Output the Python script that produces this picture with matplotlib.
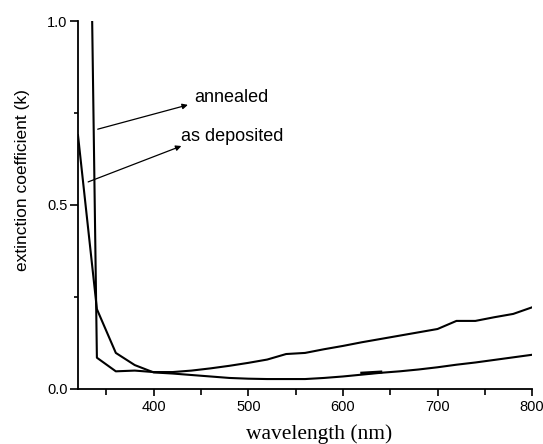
import matplotlib
matplotlib.use("Agg")
import matplotlib.pyplot as plt
from matplotlib.ticker import MultipleLocator

# annealed film
wl_annealed = [335, 340, 360, 380, 400, 420, 440, 460, 480, 500, 520, 540, 560,
               580, 600, 620, 640, 660, 680, 700, 720, 740, 760, 780, 800]
k_annealed = [1.0, 0.085, 0.048, 0.050, 0.046, 0.046, 0.050, 0.056, 0.063, 0.071,
              0.080, 0.095, 0.098, 0.108, 0.117, 0.127, 0.136, 0.145, 0.154, 0.163,
              0.185, 0.185, 0.195, 0.204, 0.222]

# as deposited film
wl_dep = [320, 340, 360, 380, 400, 420, 440, 460, 480, 500, 520, 540, 560,
          580, 600, 620, 640, 660, 680, 700, 720, 740, 760, 780, 800]
k_dep = [0.69, 0.217, 0.098, 0.065, 0.045, 0.042, 0.038, 0.034, 0.030, 0.028,
         0.027, 0.027, 0.027, 0.030, 0.034, 0.039, 0.044, 0.048, 0.053, 0.059,
         0.066, 0.072, 0.079, 0.086, 0.093]

# short overlapping segment near 620-640 nm
wl_extra = [620, 640]
k_extra = [0.043, 0.046]

fig = plt.figure(figsize=(5.43, 4.44), dpi=100)
ax = fig.add_axes([0.1436, 0.1239, 0.8364, 0.8288])

ax.plot(wl_annealed, k_annealed, color="black", lw=1.5)
ax.plot(wl_dep, k_dep, color="black", lw=1.5)
ax.plot(wl_extra, k_extra, color="black", lw=2.2)

ax.set_xlim(320, 800)
ax.set_ylim(0, 1.0)

ax.spines["top"].set_visible(False)
ax.spines["right"].set_visible(False)
ax.spines["left"].set_linewidth(1.3)
ax.spines["bottom"].set_linewidth(1.3)

ax.xaxis.set_major_locator(MultipleLocator(100))
ax.xaxis.set_minor_locator(MultipleLocator(50))
ax.yaxis.set_major_locator(MultipleLocator(0.5))
ax.yaxis.set_minor_locator(MultipleLocator(0.25))
ax.set_yticks([0.0, 0.5, 1.0])
ax.set_yticklabels(["0.0", "0.5", "1.0"])

ax.tick_params(axis="y", which="major", length=5.5, width=1.2, direction="out", pad=2)
ax.tick_params(axis="y", which="minor", length=3, width=1.2, direction="out")
ax.tick_params(axis="x", which="major", length=5, width=1.2, direction="out", pad=3)
ax.tick_params(axis="x", which="minor", length=4, width=1.2, direction="out")
for lab in ax.get_xticklabels() + ax.get_yticklabels():
    lab.set_family("Liberation Sans")
    lab.set_fontsize(10.5)

ax.set_xlabel("wavelength (nm)", family="Liberation Serif", fontsize=15.5, va="center")
ax.xaxis.set_label_coords(0.53, -0.122)
ax.set_ylabel("extinction coefficient (k)", family="Liberation Sans", fontsize=12.5)
ax.yaxis.set_label_coords(-0.105, 0.568)

ax.annotate("", xy=(439, 0.774), xytext=(338, 0.704),
            arrowprops=dict(arrowstyle="-|>", color="black", lw=0.9, mutation_scale=8))
ax.text(443, 0.793, "annealed", family="Liberation Sans", fontsize=13, va="center", ha="left")

ax.annotate("", xy=(432, 0.663), xytext=(328, 0.56),
            arrowprops=dict(arrowstyle="-|>", color="black", lw=0.9, mutation_scale=8))
ax.text(429, 0.685, "as deposited", family="Liberation Sans", fontsize=13, va="center", ha="left")

fig.savefig("out.png", dpi=100)
